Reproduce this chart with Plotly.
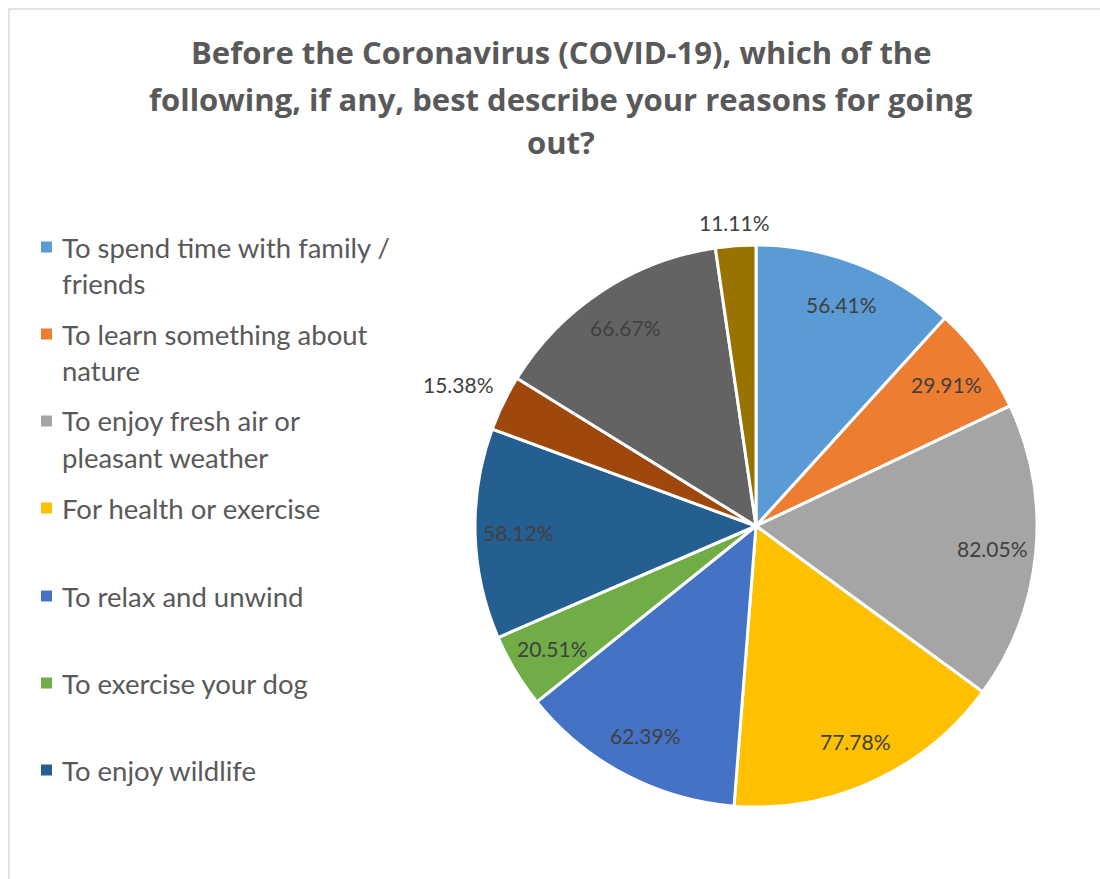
import math
import plotly.graph_objects as go

W, H = 1100, 879

categories = [
    "To spend time with family / friends",
    "To learn something about nature",
    "To enjoy fresh air or pleasant weather",
    "For health or exercise",
    "To relax and unwind",
    "To exercise your dog",
    "To enjoy wildlife",
    "Other (1)",
    "Other (2)",
    "Other (3)",
]
values = [56.41, 29.91, 82.05, 77.78, 62.39, 20.51, 58.12, 15.38, 66.67, 11.11]
colors = ["#5B9BD5", "#ED7D31", "#A5A5A5", "#FFC000", "#4472C4",
          "#70AD47", "#255E91", "#9E480E", "#636363", "#997300"]

# legend lines shown in the reference (only the first 7 entries are visible)
legend_lines = [
    ["To spend time with family /", "friends"],
    ["To learn something about", "nature"],
    ["To enjoy fresh air or", "pleasant weather"],
    ["For health or exercise"],
    ["To relax and unwind"],
    ["To exercise your dog"],
    ["To enjoy wildlife"],
]
title_lines = [
    "Before the Coronavirus (COVID-19), which of the",
    "following, if any, best describe your reasons for going",
    "out?",
]

def px(x):
    return x / W

def py(y):
    return 1 - y / H

cx, cy, r = 756, 526, 281

fig = go.Figure()
fig.add_trace(go.Pie(
    labels=categories,
    values=values,
    text=[f"{v:.2f}%" for v in values],
    textinfo="none",
    sort=False,
    direction="clockwise",
    rotation=0,
    marker=dict(colors=colors, line=dict(color="white", width=3)),
    domain=dict(x=[px(cx - r), px(cx + r)], y=[py(cy + r), py(cy - r)]),
    showlegend=False,
    hoverinfo="label+text",
))

annotations = []

# data labels placed at slice mid-angles (derived from the values)
total = sum(values)
cum = 0.0
for v in values:
    mid = (cum + v / 2) / total * 2 * math.pi
    cum += v
    s, c = math.sin(mid), math.cos(mid)
    frac = v / total
    if frac > 0.035:
        lx, ly = cx + 0.845 * r * s, cy - 0.845 * r * c
        xa, ya = "center", "middle"
    else:
        lx, ly = cx + 1.03 * r * s, cy - 1.03 * r * c
        xa = "right" if s < -0.3 else ("left" if s > 0.3 else "center")
        ya = "bottom" if c > 0 else "top"
    annotations.append(dict(
        x=px(lx), y=py(ly), xref="paper", yref="paper",
        text=f"{v:.2f}%", showarrow=False, xanchor=xa, yanchor=ya,
        font=dict(family="Lato", size=21, color="#404040"),
    ))

for i, yy in enumerate([52, 99, 142]):
    annotations.append(dict(
        x=px(561), y=py(yy), xref="paper", yref="paper",
        text=f"<b>{title_lines[i]}</b>", showarrow=False,
        xanchor="center", yanchor="middle",
        font=dict(family="Open Sans", size=31, color="#595959"),
    ))

shapes = []
legend_y = [247, 334, 421, 508, 596, 683, 770]
for i, lines in enumerate(legend_lines):
    y0 = legend_y[i]
    shapes.append(dict(
        type="rect", xref="paper", yref="paper",
        x0=px(41), x1=px(52), y0=py(y0 - 5.5), y1=py(y0 + 5.5),
        fillcolor=colors[i], line=dict(width=0),
    ))
    for j, t in enumerate(lines):
        annotations.append(dict(
            x=px(60), y=py(y0 + 36 * j), xref="paper", yref="paper",
            text=t, showarrow=False, xanchor="left", yanchor="middle",
            font=dict(family="Lato", size=27.5, color="#595959"),
        ))

# chart area border
shapes.append(dict(
    type="rect", xref="paper", yref="paper",
    x0=px(9), x1=px(1120), y0=py(900), y1=py(9),
    line=dict(color="#D9D9D9", width=1.5), fillcolor="rgba(0,0,0,0)", layer="below",
))

fig.update_layout(
    width=W, height=H,
    margin=dict(l=0, r=0, t=0, b=0),
    paper_bgcolor="white",
    plot_bgcolor="white",
    annotations=annotations,
    shapes=shapes,
    showlegend=False,
)

fig.write_html("out.html")
